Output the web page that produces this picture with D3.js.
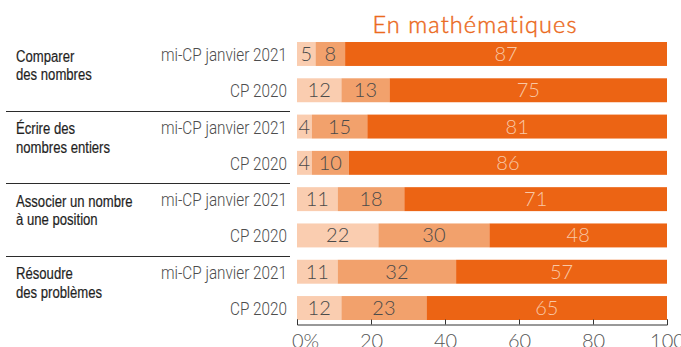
<!DOCTYPE html>
<html>
<head>
<meta charset="utf-8">
<script src="https://cdn.jsdelivr.net/npm/d3@7/dist/d3.min.js"></script>
<style>
  html, body { margin: 0; padding: 0; background: #fff; }
  svg { display: block; }
</style>
</head>
<body>
<svg id="chart" width="681" height="347"></svg>
<script>
// Skill groups (two-line labels) and the two cohorts shown for each
const groupLabels = [
  ["Comparer", "des nombres"],
  ["Écrire des", "nombres entiers"],
  ["Associer un nombre", "à une position"],
  ["Résoudre", "des problèmes"]
];
const periods = ["mi-CP janvier 2021", "CP 2020"];

// Shares of pupils (%) per row, rows ordered group by group, cohort by cohort
const lowShares  = [5, 12, 4, 4, 11, 22, 11, 12];
const midShares  = [8, 13, 15, 10, 18, 30, 32, 23];
const highShares = [87, 75, 81, 86, 71, 48, 57, 65];

const xTicks = [0, 20, 40, 60, 80, 100];
const title = "En mathématiques";

const keys = ["low", "mid", "high"];
const fill = { low: "#facdb0", mid: "#f2a16c", high: "#ec6414" };
const labelColor = { low: "#4a4a4a", mid: "#4a4a4a", high: "#f9c8a6" };

const rows = lowShares.map((v, i) => ({
  id: i,
  group: Math.floor(i / periods.length),
  period: periods[i % periods.length],
  low: v,
  mid: midShares[i],
  high: highShares[i]
}));

const svg = d3.select("#chart");

const x = d3.scaleLinear().domain([0, 100]).range([297, 667]);
const y = d3.scaleBand()
  .domain(rows.map(d => d.id))
  .range([42, 320])
  .paddingInner(0.34)
  .paddingOuter(0);

const stacked = d3.stack().keys(keys)(rows);

// Title
svg.append("text")
  .attr("x", 475)
  .attr("y", 33)
  .attr("text-anchor", "middle")
  .attr("font-family", "Lato, 'Open Sans', sans-serif")
  .attr("font-weight", 300)
  .attr("font-size", 23.5)
  .attr("letter-spacing", 1.1)
  .attr("fill", "#eb6a1d")
  .attr("stroke", "#eb6a1d")
  .attr("stroke-width", 0.45)
  .text(title);

// Stacked bars
const layers = svg.append("g").selectAll("g")
  .data(stacked)
  .join("g")
  .attr("fill", d => fill[d.key]);

layers.selectAll("rect")
  .data(d => d)
  .join("rect")
  .attr("x", d => x(d[0]))
  .attr("y", d => y(d.data.id))
  .attr("width", d => x(d[1]) - x(d[0]))
  .attr("height", y.bandwidth());

// Value labels centred in each segment
const valueLayer = svg.append("g");
stacked.forEach(layer => {
  valueLayer.selectAll(null)
    .data(layer)
    .join("text")
    .attr("x", d => (x(d[0]) + x(d[1])) / 2)
    .attr("y", d => y(d.data.id) + y.bandwidth() / 2 + 7)
    .attr("text-anchor", "middle")
    .attr("font-family", "Lato, 'Open Sans', sans-serif")
    .attr("font-weight", 300)
    .attr("font-size", 20)
    .attr("fill", labelColor[layer.key])
    .text(d => d.data[layer.key]);
});

// Cohort labels to the left of each bar (light, condensed)
svg.append("g").selectAll("text")
  .data(rows)
  .join("text")
  .attr("transform", d => `translate(287,${y(d.id) + y.bandwidth() / 2 + 7}) scale(0.85,1)`)
  .attr("text-anchor", "end")
  .attr("font-family", "Roboto, sans-serif")
  .attr("font-weight", 300)
  .attr("font-size", 18)
  .attr("fill", "#4d4d4d")
  .text(d => d.period);

// Group labels (narrow, medium weight) and separators
const groupFirstRow = groupLabels.map((_, g) => g * periods.length);
const groupText = svg.append("g")
  .attr("font-family", "'Liberation Sans', Arial, sans-serif")
  .attr("font-size", 16)
  .attr("fill", "#1f1f1f")
  .attr("stroke", "#1f1f1f")
  .attr("stroke-width", 0.2);

groupLabels.forEach((lines, g) => {
  const top = y(groupFirstRow[g]);
  lines.forEach((line, k) => {
    groupText.append("text")
      .attr("transform", `translate(16,${top + 19.5 + k * 18.5}) scale(0.82,1)`)
      .text(line);
  });
});

svg.append("g").selectAll("line")
  .data(groupFirstRow.slice(1))
  .join("line")
  .attr("x1", 6)
  .attr("x2", 290)
  .attr("y1", d => Math.round(y(d) - 4) + 0.5)
  .attr("y2", d => Math.round(y(d) - 4) + 0.5)
  .attr("stroke", "#2b2b2b")
  .attr("stroke-width", 1);

// Bottom axis with upward ticks
const axis = svg.append("g")
  .attr("transform", "translate(0,324.5)")
  .call(d3.axisBottom(x)
    .tickValues(xTicks)
    .tickSize(-5)
    .tickSizeOuter(-5)
    .tickFormat(d => d === 0 ? "0%" : d));

axis.select(".domain").attr("stroke", "#333");
axis.selectAll(".tick line").attr("stroke", "#333");
axis.selectAll(".tick text")
  .attr("y", 23)
  .attr("dy", 0)
  .attr("dx", d => d === 0 ? 8 : 0)
  .attr("font-family", "Lato, 'Open Sans', sans-serif")
  .attr("font-weight", 300)
  .attr("font-size", 20)
  .attr("fill", "#555");
</script>
</body>
</html>
